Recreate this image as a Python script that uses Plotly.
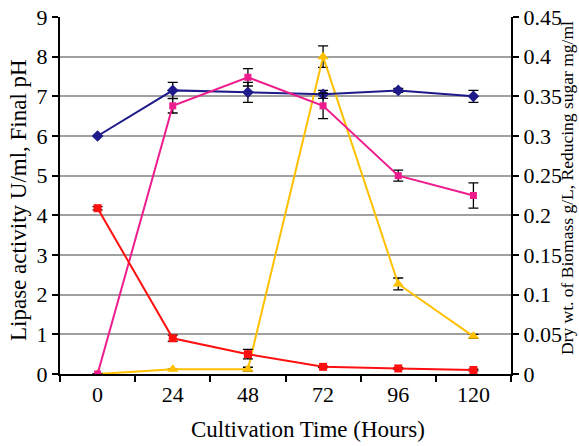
import plotly.graph_objects as go

hours = ["0", "24", "48", "72", "96", "120"]

# left axis series
ph = [6.0, 7.15, 7.1, 7.05, 7.15, 7.0]
ph_err = [0.0, 0.2, 0.25, 0.1, 0.05, 0.15]
lipase = [0.0, 0.12, 0.12, 8.0, 2.27, 0.95]
lipase_err = [0.0, 0.0, 0.05, 0.27, 0.15, 0.05]

# right axis series
biomass = [0.0, 0.338, 0.374, 0.338, 0.25, 0.225]
biomass_err = [0.0, 0.009, 0.011, 0.016, 0.007, 0.016]
sugar = [0.209, 0.045, 0.025, 0.009, 0.007, 0.005]
sugar_err = [0.002, 0.004, 0.006, 0.001, 0.001, 0.001]

left_title = "Lipase activity U/ml, Final pH"
right_title = "Dry wt. of Biomass g/L, Reducing sugar mg/ml"
x_title = "Cultivation Time (Hours)"

font = "Liberation Serif, Times New Roman, serif"

def eb(vals):
    return dict(type="data", array=vals, visible=True, color="black", thickness=1.3, width=5)

fig = go.Figure()
fig.add_trace(go.Scatter(x=hours, y=biomass, yaxis="y2", mode="lines+markers",
                         line=dict(color="#EE1C8C", width=2),
                         marker=dict(symbol="square", size=7, color="#EE1C8C"),
                         error_y=eb(biomass_err), name="Biomass"))
fig.add_trace(go.Scatter(x=hours, y=sugar, yaxis="y2", mode="lines+markers",
                         line=dict(color="#FF1010", width=2),
                         marker=dict(symbol="square", size=8, color="#FF1010"),
                         error_y=eb(sugar_err), name="Reducing sugar"))
fig.add_trace(go.Scatter(x=hours, y=lipase, mode="lines+markers",
                         line=dict(color="#FFC000", width=2),
                         marker=dict(symbol="triangle-up", size=10, color="#FFC000"),
                         error_y=eb(lipase_err), name="Lipase"))
fig.add_trace(go.Scatter(x=hours, y=ph, mode="lines+markers",
                         line=dict(color="#1E1A8A", width=2),
                         marker=dict(symbol="diamond", size=9, color="#1E1A8A"),
                         error_y=eb(ph_err), name="pH"))

fig.update_layout(
    width=579, height=446,
    margin=dict(l=60, r=68, t=17, b=72),
    paper_bgcolor="white", plot_bgcolor="white",
    showlegend=False,
    font=dict(family=font, color="black", size=22),
    xaxis=dict(type="category", tickson="boundaries", ticks="outside", ticklen=6,
               tickcolor="black", tickwidth=2, showline=True, linecolor="black", linewidth=2,
               showgrid=False, range=[-0.5, 5.5], automargin=False,
               tickfont=dict(size=22)),
    yaxis=dict(range=[0, 9], dtick=1, ticks="outside", ticklen=6, tickcolor="black", tickwidth=2,
               showline=True, linecolor="black", linewidth=2, showgrid=True,
               gridcolor="#A0A0A0", gridwidth=1.5, zeroline=False, automargin=False,
               tickfont=dict(size=22)),
    yaxis2=dict(range=[0, 0.45], dtick=0.05, overlaying="y", side="right", ticks="outside",
                ticklen=6, tickcolor="black", tickwidth=2, showline=True, linecolor="black",
                linewidth=2, showgrid=False, zeroline=False, tickformat="~g", automargin=False,
                tickfont=dict(size=22)),
    annotations=[
        dict(text=left_title, xref="paper", yref="paper", x=-41/451, y=(374-200)/357,
             xanchor="center", yanchor="middle", textangle=-90, showarrow=False,
             font=dict(size=23)),
        dict(text=right_title, xref="paper", yref="paper", x=(567-60)/451, y=(374-188)/357,
             xanchor="center", yanchor="middle", textangle=-90, showarrow=False,
             font=dict(size=17.5)),
        dict(text=x_title, xref="paper", yref="paper", x=(308-60)/451, y=-(430-374)/357,
             xanchor="center", yanchor="middle", showarrow=False,
             font=dict(size=23)),
    ],
)

fig.write_html("out.html", config={"displayModeBar": False},
               post_script="document.body.style.margin='0';document.body.style.padding='0';")
